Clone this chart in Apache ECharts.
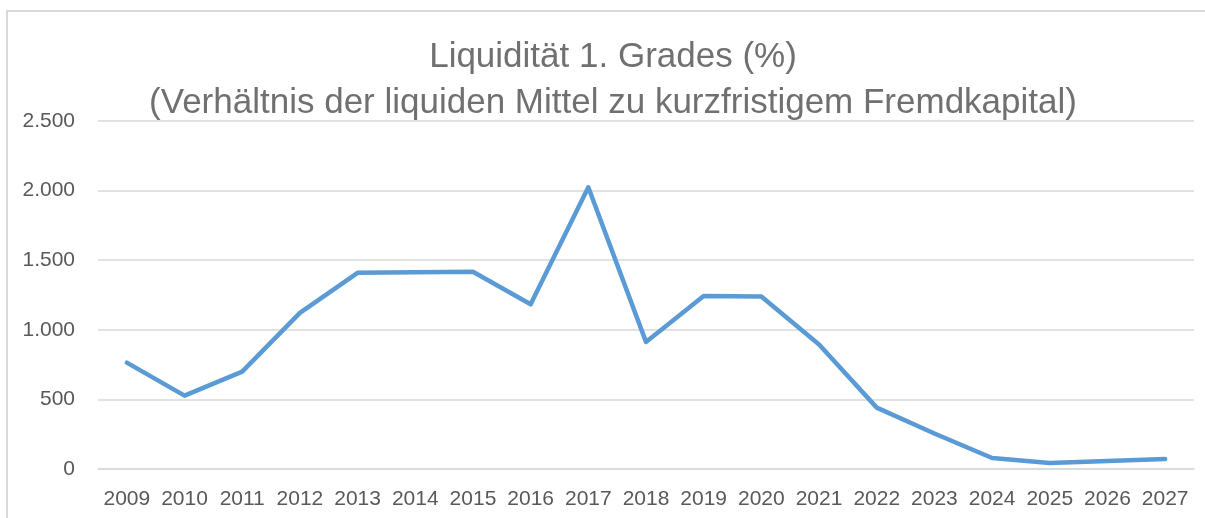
<!DOCTYPE html>
<html>
<head>
<meta charset="utf-8">
<style>
  html, body { margin: 0; padding: 0; background: #fff; }
  #chart { width: 1205px; height: 518px; }
</style>
<script src="https://cdn.jsdelivr.net/npm/echarts@6/dist/echarts.min.js"></script>
</head>
<body>
<div id="chart"></div>
<script>
// Years on the category axis
const years = ['2009','2010','2011','2012','2013','2014','2015','2016','2017','2018',
               '2019','2020','2021','2022','2023','2024','2025','2026','2027'];

// Liquidität 1. Grades in percent
const liquidity = [764, 527, 699, 1122, 1409, 1414, 1417, 1183, 2024, 913,
                   1243, 1239, 895, 441, 255, 79, 43, 57, 72];

// Value axis ticks
const yMin = 0, yMax = 2500, yStep = 500;

const titleLines = ['Liquidität 1. Grades (%)',
                    '(Verhältnis der liquiden Mittel zu kurzfristigem Fremdkapital)'];

const fontFamily = '"Liberation Sans", Arial, sans-serif';
const textGray = '#595959';
const gridGray = '#d9d9d9';

const chart = echarts.init(document.getElementById('chart'), null, { renderer: 'canvas' });

chart.setOption({
  backgroundColor: '#fff',
  animation: false,
  title: {
    text: titleLines.join('\n'),
    left: 608,
    textAlign: 'center',
    top: 29,
    padding: 5,
    textStyle: {
      fontFamily: fontFamily,
      fontSize: 35,
      fontWeight: 'normal',
      color: '#707070',
      lineHeight: 46
    }
  },
  graphic: [{
    type: 'polyline',
    shape: { points: [[7, 530], [7, 11], [1210, 11]] },
    style: { stroke: gridGray, lineWidth: 2, fill: null },
    silent: true
  }],
  grid: { left: 98, right: 11, top: 121, bottom: 49, containLabel: false },
  xAxis: {
    type: 'category',
    data: years,
    boundaryGap: true,
    axisLine: { show: true, lineStyle: { color: gridGray, width: 1.5 } },
    axisTick: { show: false },
    axisLabel: {
      interval: 0,
      color: textGray,
      fontFamily: fontFamily,
      fontSize: 21,
      margin: 20
    }
  },
  yAxis: {
    type: 'value',
    min: yMin,
    max: yMax,
    interval: yStep,
    axisLine: { show: false },
    axisTick: { show: false },
    splitLine: { lineStyle: { color: gridGray, width: 1.5 } },
    axisLabel: {
      color: textGray,
      fontFamily: fontFamily,
      fontSize: 21,
      margin: 23,
      formatter: v => v.toString().replace(/\B(?=(\d{3})+(?!\d))/g, '.')
    }
  },
  series: [{
    type: 'line',
    data: liquidity,
    symbol: 'none',
    smooth: false,
    lineStyle: { color: '#5b9bd5', width: 4.5, cap: 'round', join: 'round' }
  }]
});
</script>
</body>
</html>
